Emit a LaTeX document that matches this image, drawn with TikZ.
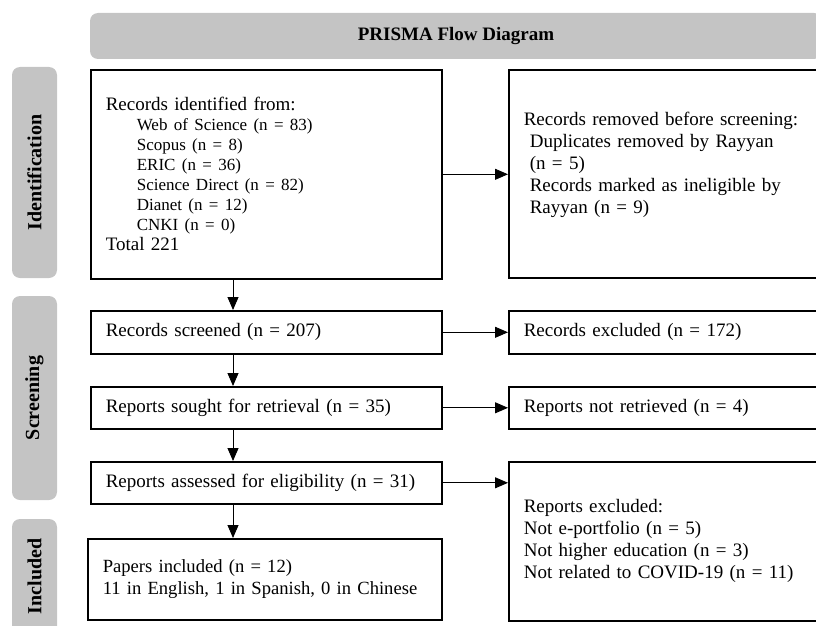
\documentclass[tikz,border=0pt]{standalone}
\usepackage{fontspec}
\setmainfont{Liberation Serif}
\usetikzlibrary{arrows.meta}
\definecolor{bargray}{HTML}{C4C4C4}
\newcommand{\srcline}[1]{\hspace*{31pt}{\fontsize{17}{20}\selectfont #1}}
\begin{document}
\begin{tikzpicture}[x=1pt,y=-1pt,
  every node/.style={font=\fontsize{19}{20}\selectfont},
  box/.style={draw=black, line width=1.6pt, inner xsep=15pt, inner ysep=0pt, align=left, anchor=north west},
  bar/.style={fill=bargray, rounded corners=8pt, draw=none, inner sep=0pt, font=\fontsize{20}{22}\selectfont\bfseries},
  arr/.style={line width=0.9pt, -{Triangle[length=13pt,width=11pt]}}
]
\useasboundingbox (0,0) rectangle (816,626);
\clip (0,0) rectangle (816,626);

% header and stage bars
\node[bar, font=\fontsize{19}{20}\selectfont\bfseries, minimum width=732pt, minimum height=46pt] (hdr) at (456,36) {PRISMA Flow Diagram};
\node[bar, rotate=90, minimum width=211pt, minimum height=45pt] (sid) at (34.5,172.5) {Identification};
\node[bar, rotate=90, minimum width=204pt, minimum height=45pt] (sscr) at (34.5,398) {Screening};
\node[bar, rotate=90, minimum width=115pt, minimum height=45pt] (sinc) at (34.5,576.5) {Included};

% boxes
\node[box, minimum width=351pt, minimum height=209pt, text width=321pt] (b1) at (90,69) {Records identified from:\\
\srcline{Web of Science (n = 83)}\\
\srcline{Scopus (n = 8)}\\
\srcline{ERIC (n = 36)}\\
\srcline{Science Direct (n = 82)}\\
\srcline{Dianet (n = 12)}\\
\srcline{CNKI (n = 0)}\\
Total 221};

\node[box, font=\fontsize{19}{22}\selectfont, minimum width=360pt, minimum height=208pt, text width=330pt] (b2) at (508,69) {Records removed before screening:\\
\hspace*{6pt}Duplicates removed by Rayyan\\
\hspace*{6pt}(n = 5)\\
\hspace*{6pt}Records marked as ineligible by\\
\hspace*{6pt}Rayyan (n = 9)\\
\mbox{}};

\node[box, minimum width=351pt, minimum height=43pt, text width=321pt] (b3) at (90,310) {Records screened (n = 207)};
\node[box, minimum width=360pt, minimum height=43pt, text width=330pt] (b4) at (508,310) {Records excluded (n = 172)};
\node[box, minimum width=351pt, minimum height=42pt, text width=321pt] (b5) at (90,386) {Reports sought for retrieval (n = 35)};
\node[box, minimum width=360pt, minimum height=42pt, text width=330pt] (b6) at (508,386) {Reports not retrieved (n = 4)};
\node[box, minimum width=351pt, minimum height=42pt, text width=321pt] (b7) at (90,461) {Reports assessed for eligibility (n = 31)};
\node[box, font=\fontsize{19}{22}\selectfont, minimum width=360pt, minimum height=159pt, text width=330pt] (b8) at (508,461) {Reports excluded:\\
Not e-portfolio (n = 5)\\
Not higher education (n = 3)\\
Not related to COVID-19 (n = 11)};
\node[box, font=\fontsize{18.6}{22}\selectfont, minimum width=354pt, minimum height=81pt, text width=324pt] (b9) at (87,538) {Papers included (n = 12)\\
11 in English, 1 in Spanish, 0 in Chinese};

% connectors
\coordinate (vx) at (233,0);
\draw[arr] (b1.south -| vx) -- (b3.north -| vx);
\draw[arr] (b3.south -| vx) -- (b5.north -| vx);
\draw[arr] (b5.south -| vx) -- (b7.north -| vx);
\draw[arr] (b7.south -| vx) -- (b9.north -| vx);
\draw[arr] (b1.east) -- (b1.east -| b2.west);
\draw[arr] (b3.east) -- (b3.east -| b4.west);
\draw[arr] (b5.east) -- (b5.east -| b6.west);
\draw[arr] (b7.east) -- (b7.east -| b8.west);
\end{tikzpicture}
\end{document}
